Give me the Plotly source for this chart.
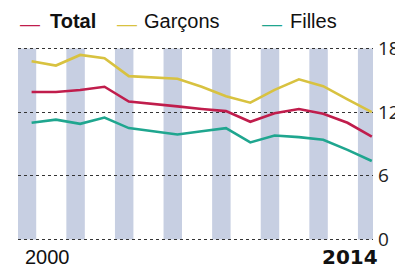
import plotly.graph_objects as go

years = list(range(2000, 2015))
total = [13.9, 13.9, 14.1, 14.4, 13.0, 12.8, 12.55, 12.3, 12.1, 11.1, 11.9, 12.3, 11.85, 11.0, 9.7]
garcons = [16.8, 16.4, 17.4, 17.1, 15.4, 15.3, 15.15, 14.4, 13.5, 12.9, 14.1, 15.1, 14.45, 13.2, 12.0]
filles = [11.0, 11.3, 10.9, 11.5, 10.5, 10.2, 9.9, 10.2, 10.5, 9.15, 9.8, 9.65, 9.4, 8.45, 7.4]
series_names = ["Total", "Garçons", "Filles"]
series_colors = ["#c01d4c", "#d8c240", "#1fa68f"]
y_ticks = [0, 6, 12, 18]
x_labels = ["2000", "2014"]

stripe_years = years[::2]
STRIPE = "#c7cfe2"
XR = [1999.44, 2014.05]
YR = [-0.15, 18.15]

# page body has an 8px default margin: plot area on screen = x 18..373, y 46.9..240.6
OFF = 8
PL, PR, PT, PB = 18, 373, 46.9, 240.6

fig = go.Figure()
for name, vals, col in zip(series_names, [total, garcons, filles], series_colors):
    fig.add_trace(go.Scatter(x=years, y=vals, mode="lines", name=name,
                             line=dict(color=col, width=2.6), showlegend=False))

for yr in stripe_years:
    fig.add_shape(type="rect", xref="x", yref="y", x0=yr - 0.57, x1=min(yr + 0.19, XR[1]),
                  y0=0, y1=18, fillcolor=STRIPE, line=dict(width=0), layer="below")

fig.update_xaxes(range=XR, showgrid=False, zeroline=False, showticklabels=False,
                 ticks="", showline=False, fixedrange=True)
fig.update_yaxes(range=YR, side="right", tickvals=y_ticks, ticks="",
                 showgrid=True, gridcolor="#333333", griddash="dot", gridwidth=1.4,
                 zeroline=False, showline=False, ticklabelstandoff=4,
                 tickfont=dict(family="Open Sans", size=19, color="#222222"))

def pxx(p):
    return (p - PL) / (PR - PL)

def pxy(p):
    return (PB - p) / (PB - PT)

LEG_Y = pxy(21)
legend_items = [(18, 48, 0), (115, 142, 1), (260, 288, 2)]
for dx, tx, i in legend_items:
    fig.add_annotation(xref="paper", yref="paper", x=pxx(dx), y=pxy(24), xanchor="left",
                       yanchor="middle", showarrow=False,
                       text="—", font=dict(family="Liberation Sans", size=20, color=series_colors[i]))
    label = series_names[i]
    if i == 0:
        label = "<b>" + label + "</b>"
    fig.add_annotation(xref="paper", yref="paper", x=pxx(tx), y=LEG_Y, xanchor="left",
                       yanchor="middle", showarrow=False, text=label,
                       font=dict(family="Liberation Sans", size=20, color="#111111"))

fig.add_annotation(xref="x", yref="paper", x=years[0], y=pxy(256.5), xanchor="left", yanchor="middle",
                   xshift=-8, showarrow=False, text=x_labels[0], borderpad=0,
                   font=dict(family="Liberation Sans", size=20, color="#111111"))
fig.add_annotation(xref="x", yref="paper", x=years[-1], y=pxy(257), xanchor="right", yanchor="middle",
                   xshift=7, showarrow=False, text="<b>" + x_labels[1] + "</b>", borderpad=0,
                   font=dict(family="DejaVu Sans", size=20, color="#111111"))

W, H = 403, 268
fig.update_layout(width=W, height=H,
                  margin=dict(l=PL - OFF, r=W - (PR - OFF), t=PT - OFF, b=H - (PB - OFF)),
                  paper_bgcolor="white", plot_bgcolor="white", showlegend=False)

fig.write_html("out.html")
